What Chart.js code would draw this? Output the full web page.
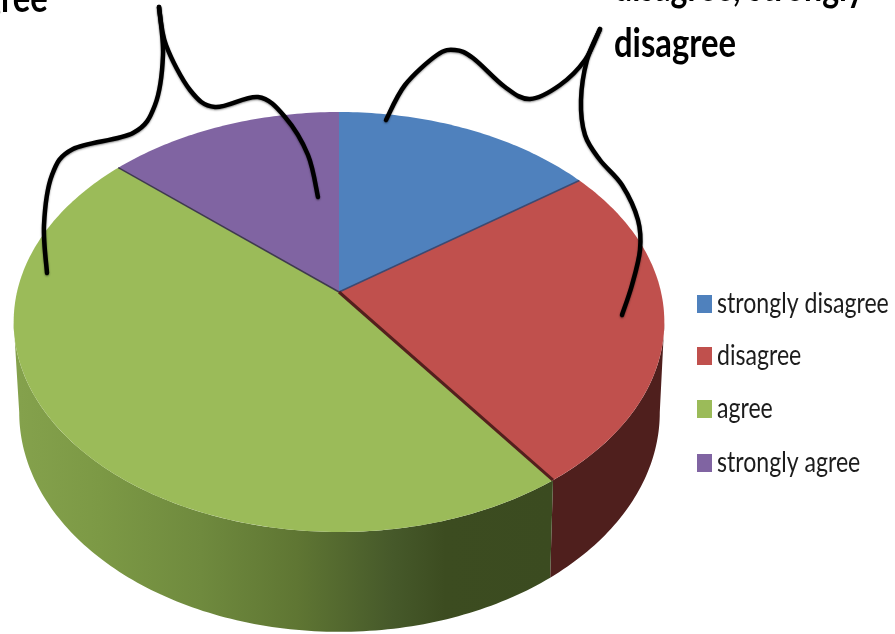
<!DOCTYPE html>
<html>
<head>
<meta charset="utf-8">
<style>
  html, body { margin: 0; padding: 0; background: #fff; }
  #wrap { width: 895px; height: 634px; position: relative; overflow: hidden; }
</style>
<script src="https://cdn.jsdelivr.net/npm/chart.js@4"></script>
</head>
<body>
<div id="wrap"><canvas id="pie" width="895" height="634"></canvas></div>
<script>
const categories = ['strongly disagree', 'disagree', 'agree', 'strongly agree'];
const shares = [15, 25, 46.5, 13.5];
const sliceColors = ['#4f81bd', '#c0504d', '#9bbb59', '#8064a2'];

// perspective of the top face: apex, half sizes and foreshortening
const top3d = { x: 339, y: 292, a: 322, b: 205.7, k: 1 / 7 };
const bottom3d = { x: 339.5, y: 381, a: 317, b: 215, k: 1 / 7 };

// hand drawn braces, traced over the picture
const braceLeft = [[47, 273], [44, 225], [52, 175], [73, 149], [133, 133], [155, 105], [163, 55], [159, 7]];
const braceMiddle = [[159, 7], [166, 45], [190, 90], [215, 107], [258, 97], [285, 117], [308, 155], [318, 197]];
const braceRight = [[386, 120], [405, 85], [437, 55], [455, 50], [473, 58], [505, 87], [530, 99], [560, 85], [585, 60], [600, 29]];
const braceRight2 = [[600, 29], [587, 60], [581, 100], [585, 135], [600, 160], [622, 185], [638, 220], [640, 250], [632, 285], [622, 315]];

function project(p, angle) {
    const u = Math.cos(angle), v = Math.sin(angle);
    const w = 1 - p.k * v;
    return [p.x + p.a * u / w, p.y + p.b * v / w];
}

function rimPoints(p, start, end) {
    const pts = [];
    const steps = Math.max(4, Math.ceil((end - start) * 60));
    for (let i = 0; i <= steps; i++) {
        pts.push(project(p, start + (end - start) * i / steps));
    }
    return pts;
}

function tracePoly(ctx, pts) {
    ctx.beginPath();
    pts.forEach((pt, i) => i ? ctx.lineTo(pt[0], pt[1]) : ctx.moveTo(pt[0], pt[1]));
    ctx.closePath();
}

function drawSides(ctx, arcs) {
    const redSide = '#4f1f1d';
    const greenSide = ctx.createLinearGradient(20, 0, 552, 0);
    greenSide.addColorStop(0, '#84a14c');
    greenSide.addColorStop(0.15, '#7c9945');
    greenSide.addColorStop(0.34, '#6f8a3e');
    greenSide.addColorStop(0.52, '#5f7633');
    greenSide.addColorStop(0.7, '#46592a');
    greenSide.addColorStop(0.8, '#3c4c20');
    greenSide.addColorStop(1, '#3b4b20');
    const sides = [null, redSide, greenSide, null];
    // only the front of the wall shows, the rest would fold over itself
    const frontStart = Math.asin(top3d.k);
    const frontEnd = Math.PI - frontStart;
    arcs.forEach((arc, i) => {
        if (!sides[i]) return;
        const start = Math.max(arc.startAngle, frontStart);
        const end = Math.min(arc.endAngle, frontEnd);
        const pts = rimPoints(top3d, start, end).concat(rimPoints(bottom3d, start, end).reverse());
        tracePoly(ctx, pts);
        ctx.fillStyle = sides[i];
        ctx.fill();
    });
}

function drawTop(ctx, arcs) {
    arcs.forEach(arc => {
        const pts = [[top3d.x, top3d.y]].concat(rimPoints(top3d, arc.startAngle, arc.endAngle));
        tracePoly(ctx, pts);
        ctx.fillStyle = arc.options.backgroundColor;
        ctx.fill();
    });
    // dark seams between slices
    const seams = [[arcs[1].startAngle, '#3c4a72', 1.5], [arcs[3].startAngle, '#3f3a4e', 1.5], [arcs[2].startAngle, '#541f1d', 3]];
    seams.forEach(s => {
        const end = project(top3d, s[0]);
        ctx.beginPath();
        ctx.moveTo(top3d.x, top3d.y);
        ctx.lineTo(end[0], end[1]);
        ctx.strokeStyle = s[1];
        ctx.lineWidth = s[2];
        ctx.stroke();
    });
}

// smooth line through the traced points
function drawBrace(ctx, pts) {
    ctx.beginPath();
    ctx.moveTo(pts[0][0], pts[0][1]);
    for (let i = 0; i < pts.length - 1; i++) {
        const p0 = pts[i - 1] || pts[i], p1 = pts[i], p2 = pts[i + 1], p3 = pts[i + 2] || p2;
        ctx.bezierCurveTo(
            p1[0] + (p2[0] - p0[0]) / 6, p1[1] + (p2[1] - p0[1]) / 6,
            p2[0] - (p3[0] - p1[0]) / 6, p2[1] - (p3[1] - p1[1]) / 6,
            p2[0], p2[1]);
    }
    ctx.stroke();
}

function drawText(ctx, text, x, y, font, scaleX, color) {
    ctx.save();
    ctx.translate(x, y);
    ctx.scale(scaleX, 1);
    ctx.font = font;
    ctx.fillStyle = color;
    ctx.textBaseline = 'alphabetic';
    ctx.fillText(text, 0, 0);
    ctx.restore();
}

const pie3d = {
    id: 'pie3d',
    beforeDatasetsDraw(chart) {
        const ctx = chart.ctx;
        const arcs = chart.getDatasetMeta(0).data;
        ctx.save();
        drawSides(ctx, arcs);
        drawTop(ctx, arcs);
        ctx.restore();
        return false;
    },
    afterDraw(chart) {
        const ctx = chart.ctx;
        ctx.save();
        ctx.strokeStyle = '#000';
        ctx.lineWidth = 4.5;
        ctx.lineCap = 'round';
        ctx.lineJoin = 'round';
        ctx.shadowColor = 'rgba(0,0,0,0.45)';
        ctx.shadowBlur = 2;
        ctx.shadowOffsetY = 1;
        [braceLeft, braceMiddle, braceRight, braceRight2].forEach(b => drawBrace(ctx, b));
        ctx.restore();

        // legend
        const legendBase = [313, 365, 418, 472];
        categories.forEach((name, i) => {
            ctx.fillStyle = sliceColors[i];
            ctx.fillRect(697, legendBase[i] - 18, 15, 18);
            drawText(ctx, name, 717, legendBase[i], '28px Lato', 0.825, '#1c1c1c');
        });

        // callout text, cut by the edge of the picture
        drawText(ctx, 'disagree, strongly', 614, 1, 'bold 41px Lato', 0.78, '#000');
        drawText(ctx, 'disagree', 614, 57, 'bold 41px Lato', 0.8, '#000');
        drawText(ctx, 'agree', -33, 12, 'bold 41px Lato', 0.8, '#000');
    }
};

new Chart(document.getElementById('pie'), {
    type: 'pie',
    data: {
        labels: categories,
        datasets: [{ data: shares, backgroundColor: sliceColors, borderWidth: 0 }]
    },
    options: {
        responsive: false,
        animation: false,
        plugins: {
            legend: { display: false },
            tooltip: { enabled: false }
        }
    },
    plugins: [pie3d]
});
</script>
</body>
</html>
